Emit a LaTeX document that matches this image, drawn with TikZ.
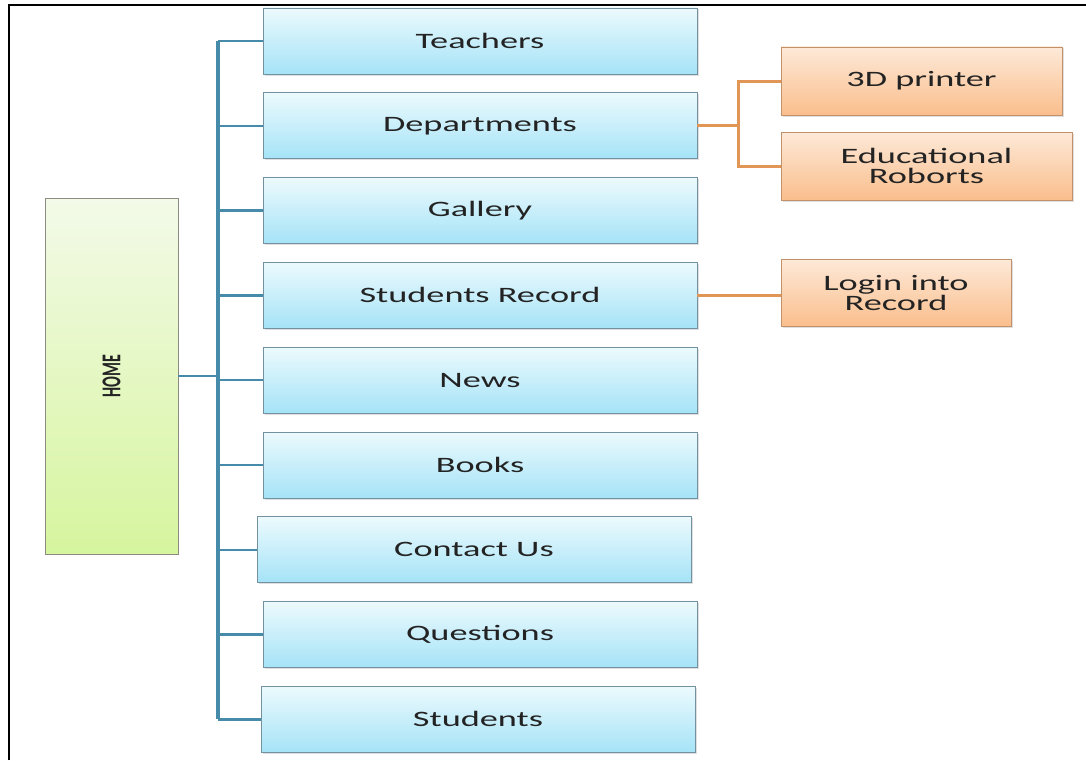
\documentclass[tikz,border=0pt]{standalone}
\usepackage{fontspec}
\setmainfont{Carlito}[FakeStretch=1.65]
\newfontfamily\homefont{Carlito}
\usetikzlibrary{positioning, shadows}

\definecolor{menutop}{RGB}{236,250,253}
\definecolor{menubot}{RGB}{165,227,247}
\definecolor{menuline}{RGB}{115,145,160}
\definecolor{subtop}{RGB}{253,233,216}
\definecolor{subbot}{RGB}{250,190,140}
\definecolor{subline}{RGB}{195,145,105}
\definecolor{hometop}{RGB}{243,250,232}
\definecolor{homebot}{RGB}{214,245,158}
\definecolor{homeline}{RGB}{140,140,130}
\definecolor{spinecol}{RGB}{70,140,170}
\definecolor{linkcol}{RGB}{225,150,85}
\definecolor{txt}{RGB}{35,35,35}

\begin{document}
\begin{tikzpicture}[x=1pt, y=-1pt,
		menu/.style={rectangle, draw=menuline, thick, top color=menutop, bottom color=menubot, minimum width=434pt, minimum height=66pt, inner sep=0pt, text=txt, font=\fontsize{22}{24}\selectfont, drop shadow={opacity=0.25, shadow xshift=1.5pt, shadow yshift=-1.5pt}},
		sub/.style={rectangle, draw=subline, thick, top color=subtop, bottom color=subbot, minimum height=68pt, inner sep=0pt, align=center, text=txt, font=\fontsize{22}{20}\selectfont, drop shadow={opacity=0.25, shadow xshift=1.5pt, shadow yshift=-1.5pt}},
		spine/.style={draw=spinecol, line width=4.5pt},
		branch/.style={draw=spinecol, line width=2.5pt},
		link/.style={draw=linkcol, line width=3pt}
		]
		\useasboundingbox (0,0) rectangle (1086,760);
		\draw[line width=2pt] (9,760) -- (9,5) -- (1086,5);

		% home
		\node [rectangle, draw=homeline, thick, top color=hometop, bottom color=homebot, minimum width=133pt, minimum height=356pt, text=txt, font=\homefont\bfseries\fontsize{16}{16}\selectfont] (home) at (111.5,376) {\rotatebox{90}{\scalebox{1}[1.7]{HOME}}};

		% menu column
		\node [menu] (teachers) at (480,41) {Teachers};
		\node [menu] (departments) [below=18pt of teachers] {Departments};
		\node [menu] (gallery) [below=18pt of departments] {Gallery};
		\node [menu] (record) [below=18pt of gallery] {Students Record};
		\node [menu] (news) [below=18pt of record] {News};
		\node [menu] (books) [below=18pt of news] {Books};
		\node [menu] (contact) [below=18pt of books, xshift=-6pt] {Contact Us};
		\node [menu] (questions) [below=18pt of contact, xshift=6pt] {Questions};
		\node [menu] (students) [below=18pt of questions, xshift=-2pt] {Students};

		% sub pages
		\node [sub, minimum width=281pt] (printer) at (921.5,81) {3D printer};
		\node [sub, minimum width=291pt] (robots) at (926.5,166) {Educational\\Roborts};
		\node [sub, minimum width=230pt, minimum height=67pt] (login) at (896,293) {Login into\\Record};

		\coordinate (bus) at (218,0);
		\coordinate (fork) at (738,0);

		\draw [spine] (bus |- teachers.west) -- (bus |- students.west);
		\draw [branch] (home.east) -- (bus |- home.east);
		\foreach \m in {teachers, departments, gallery, record, news, books, contact, questions, students}
			\draw [branch] (bus |- \m.west) -- (\m.west);

		\draw [link] (departments.east) -- (fork |- departments.east);
		\draw [link] (printer.west) -- (fork |- printer.west) -- (fork |- robots.west) -- (robots.west);
		\draw [link] (record.east) -- (record.east -| login.west);
	\end{tikzpicture}
\end{document}
